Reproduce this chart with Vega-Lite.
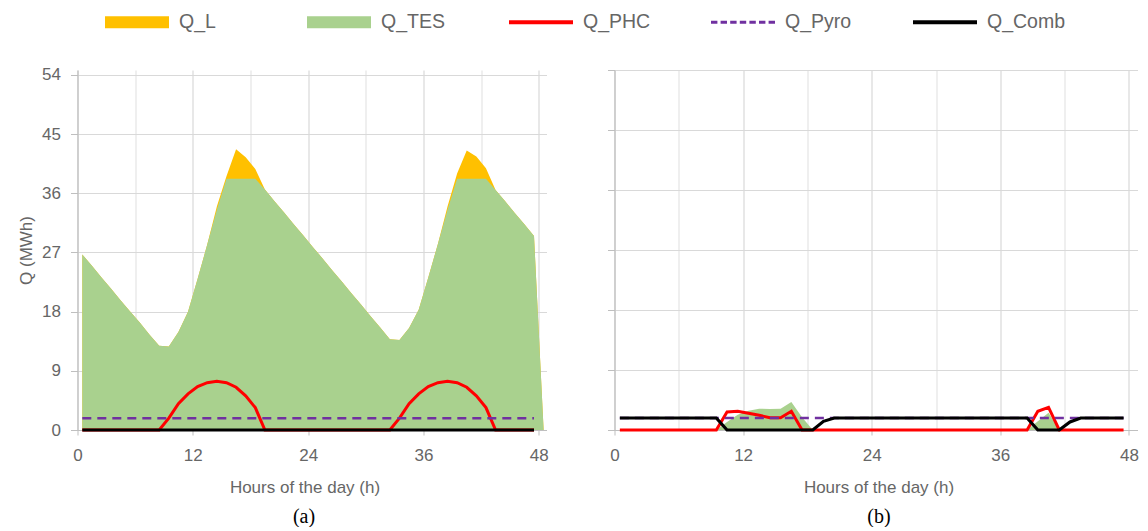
{
  "$schema": "https://vega.github.io/schema/vega-lite/v6.json",
  "padding": {"left": 17.5, "top": 12, "right": 0, "bottom": 0},
  "autosize": {"type": "pad"},
  "background": "white",
  "bounds": "flush",
  "spacing": 68,
  "config": {
    "view": {"stroke": null},
    "axis": {
      "labelFont": "Liberation Sans", "labelColor": "#666666", "labelFontSize": 17,
      "titleFont": "Liberation Sans", "titleColor": "#666666", "titleFontSize": 17, "titleFontWeight": "normal",
      "domainColor": "#BFBFBF", "tickColor": "#BFBFBF", "gridColor": "#D9D9D9", "gridWidth": 1.2, "domainWidth": 1.2
    }
  },
  "datasets": {
    "a": [
      {"h": 0.5, "Q_L": 26.7, "Q_TES": 26.7, "Q_PHC": 0, "Q_Pyro": 1.8, "Q_Comb": 0},
      {"h": 1.5, "Q_L": 25.0, "Q_TES": 25.0, "Q_PHC": 0, "Q_Pyro": 1.8, "Q_Comb": 0},
      {"h": 2.5, "Q_L": 23.2, "Q_TES": 23.2, "Q_PHC": 0, "Q_Pyro": 1.8, "Q_Comb": 0},
      {"h": 3.5, "Q_L": 21.5, "Q_TES": 21.5, "Q_PHC": 0, "Q_Pyro": 1.8, "Q_Comb": 0},
      {"h": 4.5, "Q_L": 19.7, "Q_TES": 19.7, "Q_PHC": 0, "Q_Pyro": 1.8, "Q_Comb": 0},
      {"h": 5.5, "Q_L": 18.0, "Q_TES": 18.0, "Q_PHC": 0, "Q_Pyro": 1.8, "Q_Comb": 0},
      {"h": 6.5, "Q_L": 16.3, "Q_TES": 16.3, "Q_PHC": 0, "Q_Pyro": 1.8, "Q_Comb": 0},
      {"h": 7.5, "Q_L": 14.5, "Q_TES": 14.5, "Q_PHC": 0, "Q_Pyro": 1.8, "Q_Comb": 0},
      {"h": 8.5, "Q_L": 12.8, "Q_TES": 12.8, "Q_PHC": 0, "Q_Pyro": 1.8, "Q_Comb": 0},
      {"h": 9.5, "Q_L": 12.7, "Q_TES": 12.7, "Q_PHC": 1.8, "Q_Pyro": 1.8, "Q_Comb": 0},
      {"h": 10.5, "Q_L": 14.9, "Q_TES": 14.9, "Q_PHC": 4.0, "Q_Pyro": 1.8, "Q_Comb": 0},
      {"h": 11.5, "Q_L": 18.0, "Q_TES": 18.0, "Q_PHC": 5.5, "Q_Pyro": 1.8, "Q_Comb": 0},
      {"h": 12.5, "Q_L": 23.0, "Q_TES": 23.0, "Q_PHC": 6.6, "Q_Pyro": 1.8, "Q_Comb": 0},
      {"h": 13.5, "Q_L": 28.2, "Q_TES": 28.2, "Q_PHC": 7.2, "Q_Pyro": 1.8, "Q_Comb": 0},
      {"h": 14.5, "Q_L": 34.0, "Q_TES": 33.5, "Q_PHC": 7.4, "Q_Pyro": 1.8, "Q_Comb": 0},
      {"h": 15.5, "Q_L": 38.6, "Q_TES": 38.2, "Q_PHC": 7.2, "Q_Pyro": 1.8, "Q_Comb": 0},
      {"h": 16.5, "Q_L": 42.7, "Q_TES": 38.2, "Q_PHC": 6.5, "Q_Pyro": 1.8, "Q_Comb": 0},
      {"h": 17.5, "Q_L": 41.5, "Q_TES": 38.2, "Q_PHC": 5.2, "Q_Pyro": 1.8, "Q_Comb": 0},
      {"h": 18.5, "Q_L": 39.7, "Q_TES": 38.2, "Q_PHC": 3.4, "Q_Pyro": 1.8, "Q_Comb": 0},
      {"h": 19.5, "Q_L": 36.6, "Q_TES": 36.6, "Q_PHC": 0, "Q_Pyro": 1.8, "Q_Comb": 0},
      {"h": 20.5, "Q_L": 34.8, "Q_TES": 34.8, "Q_PHC": 0, "Q_Pyro": 1.8, "Q_Comb": 0},
      {"h": 21.5, "Q_L": 33.1, "Q_TES": 33.1, "Q_PHC": 0, "Q_Pyro": 1.8, "Q_Comb": 0},
      {"h": 22.5, "Q_L": 31.3, "Q_TES": 31.3, "Q_PHC": 0, "Q_Pyro": 1.8, "Q_Comb": 0},
      {"h": 23.5, "Q_L": 29.6, "Q_TES": 29.6, "Q_PHC": 0, "Q_Pyro": 1.8, "Q_Comb": 0},
      {"h": 24.5, "Q_L": 27.8, "Q_TES": 27.8, "Q_PHC": 0, "Q_Pyro": 1.8, "Q_Comb": 0},
      {"h": 25.5, "Q_L": 26.1, "Q_TES": 26.1, "Q_PHC": 0, "Q_Pyro": 1.8, "Q_Comb": 0},
      {"h": 26.5, "Q_L": 24.3, "Q_TES": 24.3, "Q_PHC": 0, "Q_Pyro": 1.8, "Q_Comb": 0},
      {"h": 27.5, "Q_L": 22.6, "Q_TES": 22.6, "Q_PHC": 0, "Q_Pyro": 1.8, "Q_Comb": 0},
      {"h": 28.5, "Q_L": 20.8, "Q_TES": 20.8, "Q_PHC": 0, "Q_Pyro": 1.8, "Q_Comb": 0},
      {"h": 29.5, "Q_L": 19.1, "Q_TES": 19.1, "Q_PHC": 0, "Q_Pyro": 1.8, "Q_Comb": 0},
      {"h": 30.5, "Q_L": 17.3, "Q_TES": 17.3, "Q_PHC": 0, "Q_Pyro": 1.8, "Q_Comb": 0},
      {"h": 31.5, "Q_L": 15.6, "Q_TES": 15.6, "Q_PHC": 0, "Q_Pyro": 1.8, "Q_Comb": 0},
      {"h": 32.5, "Q_L": 13.8, "Q_TES": 13.8, "Q_PHC": 0, "Q_Pyro": 1.8, "Q_Comb": 0},
      {"h": 33.5, "Q_L": 13.7, "Q_TES": 13.7, "Q_PHC": 1.8, "Q_Pyro": 1.8, "Q_Comb": 0},
      {"h": 34.5, "Q_L": 15.5, "Q_TES": 15.5, "Q_PHC": 4.0, "Q_Pyro": 1.8, "Q_Comb": 0},
      {"h": 35.5, "Q_L": 18.3, "Q_TES": 18.3, "Q_PHC": 5.5, "Q_Pyro": 1.8, "Q_Comb": 0},
      {"h": 36.5, "Q_L": 23.2, "Q_TES": 23.2, "Q_PHC": 6.6, "Q_Pyro": 1.8, "Q_Comb": 0},
      {"h": 37.5, "Q_L": 28.3, "Q_TES": 28.3, "Q_PHC": 7.2, "Q_Pyro": 1.8, "Q_Comb": 0},
      {"h": 38.5, "Q_L": 34.0, "Q_TES": 33.5, "Q_PHC": 7.4, "Q_Pyro": 1.8, "Q_Comb": 0},
      {"h": 39.5, "Q_L": 39.0, "Q_TES": 38.2, "Q_PHC": 7.2, "Q_Pyro": 1.8, "Q_Comb": 0},
      {"h": 40.5, "Q_L": 42.5, "Q_TES": 38.2, "Q_PHC": 6.5, "Q_Pyro": 1.8, "Q_Comb": 0},
      {"h": 41.5, "Q_L": 41.6, "Q_TES": 38.2, "Q_PHC": 5.2, "Q_Pyro": 1.8, "Q_Comb": 0},
      {"h": 42.5, "Q_L": 39.8, "Q_TES": 38.2, "Q_PHC": 3.4, "Q_Pyro": 1.8, "Q_Comb": 0},
      {"h": 43.5, "Q_L": 36.5, "Q_TES": 36.5, "Q_PHC": 0, "Q_Pyro": 1.8, "Q_Comb": 0},
      {"h": 44.5, "Q_L": 34.8, "Q_TES": 34.8, "Q_PHC": 0, "Q_Pyro": 1.8, "Q_Comb": 0},
      {"h": 45.5, "Q_L": 33.0, "Q_TES": 33.0, "Q_PHC": 0, "Q_Pyro": 1.8, "Q_Comb": 0},
      {"h": 46.5, "Q_L": 31.3, "Q_TES": 31.3, "Q_PHC": 0, "Q_Pyro": 1.8, "Q_Comb": 0},
      {"h": 47.5, "Q_L": 29.5, "Q_TES": 29.5, "Q_PHC": 0, "Q_Pyro": 1.8, "Q_Comb": 0},
      {"h": 48.5, "Q_L": 0, "Q_TES": 0, "Q_PHC": null, "Q_Pyro": null, "Q_Comb": null}
    ],
    "b": [
      {"h": 0.5, "Q_TES": 0, "Q_PHC": 0, "Q_Pyro": 1.8, "Q_Comb": 1.8},
      {"h": 1.5, "Q_TES": 0, "Q_PHC": 0, "Q_Pyro": 1.8, "Q_Comb": 1.8},
      {"h": 2.5, "Q_TES": 0, "Q_PHC": 0, "Q_Pyro": 1.8, "Q_Comb": 1.8},
      {"h": 3.5, "Q_TES": 0, "Q_PHC": 0, "Q_Pyro": 1.8, "Q_Comb": 1.8},
      {"h": 4.5, "Q_TES": 0, "Q_PHC": 0, "Q_Pyro": 1.8, "Q_Comb": 1.8},
      {"h": 5.5, "Q_TES": 0, "Q_PHC": 0, "Q_Pyro": 1.8, "Q_Comb": 1.8},
      {"h": 6.5, "Q_TES": 0, "Q_PHC": 0, "Q_Pyro": 1.8, "Q_Comb": 1.8},
      {"h": 7.5, "Q_TES": 0, "Q_PHC": 0, "Q_Pyro": 1.8, "Q_Comb": 1.8},
      {"h": 8.5, "Q_TES": 0, "Q_PHC": 0, "Q_Pyro": 1.8, "Q_Comb": 1.8},
      {"h": 9.5, "Q_TES": 0, "Q_PHC": 0, "Q_Pyro": 1.8, "Q_Comb": 1.8},
      {"h": 10.5, "Q_TES": 1.2, "Q_PHC": 2.7, "Q_Pyro": 1.8, "Q_Comb": 0},
      {"h": 11.5, "Q_TES": 2.3, "Q_PHC": 2.8, "Q_Pyro": 1.8, "Q_Comb": 0},
      {"h": 12.5, "Q_TES": 2.9, "Q_PHC": 2.5, "Q_Pyro": 1.8, "Q_Comb": 0},
      {"h": 13.5, "Q_TES": 3.2, "Q_PHC": 2.2, "Q_Pyro": 1.8, "Q_Comb": 0},
      {"h": 14.5, "Q_TES": 3.15, "Q_PHC": 1.85, "Q_Pyro": 1.8, "Q_Comb": 0},
      {"h": 15.5, "Q_TES": 3.2, "Q_PHC": 1.85, "Q_Pyro": 1.8, "Q_Comb": 0},
      {"h": 16.5, "Q_TES": 4.2, "Q_PHC": 2.8, "Q_Pyro": 1.8, "Q_Comb": 0},
      {"h": 17.5, "Q_TES": 1.9, "Q_PHC": 0, "Q_Pyro": 1.8, "Q_Comb": 0},
      {"h": 18.5, "Q_TES": 0, "Q_PHC": 0, "Q_Pyro": 1.8, "Q_Comb": 0},
      {"h": 19.5, "Q_TES": 0, "Q_PHC": 0, "Q_Pyro": 1.8, "Q_Comb": 1.3},
      {"h": 20.5, "Q_TES": 0, "Q_PHC": 0, "Q_Pyro": 1.8, "Q_Comb": 1.8},
      {"h": 21.5, "Q_TES": 0, "Q_PHC": 0, "Q_Pyro": 1.8, "Q_Comb": 1.8},
      {"h": 22.5, "Q_TES": 0, "Q_PHC": 0, "Q_Pyro": 1.8, "Q_Comb": 1.8},
      {"h": 23.5, "Q_TES": 0, "Q_PHC": 0, "Q_Pyro": 1.8, "Q_Comb": 1.8},
      {"h": 24.5, "Q_TES": 0, "Q_PHC": 0, "Q_Pyro": 1.8, "Q_Comb": 1.8},
      {"h": 25.5, "Q_TES": 0, "Q_PHC": 0, "Q_Pyro": 1.8, "Q_Comb": 1.8},
      {"h": 26.5, "Q_TES": 0, "Q_PHC": 0, "Q_Pyro": 1.8, "Q_Comb": 1.8},
      {"h": 27.5, "Q_TES": 0, "Q_PHC": 0, "Q_Pyro": 1.8, "Q_Comb": 1.8},
      {"h": 28.5, "Q_TES": 0, "Q_PHC": 0, "Q_Pyro": 1.8, "Q_Comb": 1.8},
      {"h": 29.5, "Q_TES": 0, "Q_PHC": 0, "Q_Pyro": 1.8, "Q_Comb": 1.8},
      {"h": 30.5, "Q_TES": 0, "Q_PHC": 0, "Q_Pyro": 1.8, "Q_Comb": 1.8},
      {"h": 31.5, "Q_TES": 0, "Q_PHC": 0, "Q_Pyro": 1.8, "Q_Comb": 1.8},
      {"h": 32.5, "Q_TES": 0, "Q_PHC": 0, "Q_Pyro": 1.8, "Q_Comb": 1.8},
      {"h": 33.5, "Q_TES": 0, "Q_PHC": 0, "Q_Pyro": 1.8, "Q_Comb": 1.8},
      {"h": 34.5, "Q_TES": 0, "Q_PHC": 0, "Q_Pyro": 1.8, "Q_Comb": 1.8},
      {"h": 35.5, "Q_TES": 0, "Q_PHC": 0, "Q_Pyro": 1.8, "Q_Comb": 1.8},
      {"h": 36.5, "Q_TES": 0, "Q_PHC": 0, "Q_Pyro": 1.8, "Q_Comb": 1.8},
      {"h": 37.5, "Q_TES": 0, "Q_PHC": 0, "Q_Pyro": 1.8, "Q_Comb": 1.8},
      {"h": 38.5, "Q_TES": 0, "Q_PHC": 0, "Q_Pyro": 1.8, "Q_Comb": 1.8},
      {"h": 39.5, "Q_TES": 1.3, "Q_PHC": 2.8, "Q_Pyro": 1.8, "Q_Comb": 0},
      {"h": 40.5, "Q_TES": 2.6, "Q_PHC": 3.4, "Q_Pyro": 1.8, "Q_Comb": 0},
      {"h": 41.5, "Q_TES": 0, "Q_PHC": 0, "Q_Pyro": 1.8, "Q_Comb": 0},
      {"h": 42.5, "Q_TES": 0, "Q_PHC": 0, "Q_Pyro": 1.8, "Q_Comb": 1.2},
      {"h": 43.5, "Q_TES": 0, "Q_PHC": 0, "Q_Pyro": 1.8, "Q_Comb": 1.8},
      {"h": 44.5, "Q_TES": 0, "Q_PHC": 0, "Q_Pyro": 1.8, "Q_Comb": 1.8},
      {"h": 45.5, "Q_TES": 0, "Q_PHC": 0, "Q_Pyro": 1.8, "Q_Comb": 1.8},
      {"h": 46.5, "Q_TES": 0, "Q_PHC": 0, "Q_Pyro": 1.8, "Q_Comb": 1.8},
      {"h": 47.5, "Q_TES": 0, "Q_PHC": 0, "Q_Pyro": 1.8, "Q_Comb": 1.8}
    ]
  },
  "hconcat": [
    {
      "width": 469,
      "height": 360,
      "data": {"name": "a"},
      "transform": [{"fold": ["Q_L", "Q_TES", "Q_PHC", "Q_Pyro", "Q_Comb"], "as": ["series", "Q"]}],
      "title": {"text": "(a)", "orient": "bottom", "anchor": "middle", "font": "Liberation Serif", "fontSize": 20, "fontWeight": "normal", "color": "#000000", "offset": 12, "dx": -8},
      "encoding": {
        "x": {
          "field": "h", "type": "quantitative",
          "scale": {"domain": [0, 48.8], "nice": false, "zero": false},
          "axis": {
            "title": "Hours of the day (h)", "titleX": 227,
            "values": [0, 6, 12, 18, 24, 30, 36, 42, 48],
            "labelExpr": "datum.value % 12 === 0 ? datum.label : ''",
            "labelFlush": false, "labelOverlap": false,
            "tickSize": 5, "labelPadding": 12, "titlePadding": 16,
            "tickOpacity": {"condition": {"test": "datum.value % 12 === 0", "value": 1}, "value": 0},
            "gridColor": {"condition": {"test": "datum.value % 12 === 0", "value": "#D9D9D9"}, "value": "#E4E4E4"}
          }
        },
        "y": {
          "field": "Q", "type": "quantitative", "stack": null,
          "scale": {"domain": [0, 54.76], "nice": false, "zero": true},
          "axis": {"title": "Q (MWh)", "values": [0, 9, 18, 27, 36, 45, 54], "tickSize": 7, "labelPadding": 10, "titlePadding": 6}
        },
        "color": {
          "field": "series", "type": "nominal",
          "scale": {"domain": ["Q_L", "Q_TES", "Q_PHC", "Q_Pyro", "Q_Comb"], "range": ["#FFC000", "#A9D18E", "#FF0000", "#7030A0", "#000000"]},
          "legend": {
            "orient": "none", "legendX": 49.5, "legendY": -58, "direction": "horizontal", "title": null,
            "gridAlign": "all", "columnPadding": 49, "labelOffset": 32, "symbolSize": 400, "symbolStrokeWidth": 0,
            "labelFontSize": 19.5, "labelColor": "#666666", "labelFont": "Liberation Sans", "padding": 0, "labelLimit": 300
          }
        }
      },
      "layer": [
        {"transform": [{"filter": "datum.series === 'Q_L'"}], "mark": {"type": "area", "interpolate": "linear", "opacity": 1}},
        {"transform": [{"filter": "datum.series === 'Q_TES'"}], "mark": {"type": "area", "interpolate": "linear", "opacity": 1}},
        {"transform": [{"filter": "datum.series === 'Q_PHC'"}], "mark": {"type": "line", "strokeWidth": 3}},
        {"transform": [{"filter": "datum.series === 'Q_Pyro'"}], "mark": {"type": "line", "strokeWidth": 2.5, "strokeDash": [9, 6]}},
        {"transform": [{"filter": "datum.series === 'Q_Comb'"}], "mark": {"type": "line", "strokeWidth": 3.2}},
        {
          "transform": [{"filter": "datum.series === 'none'"}],
          "mark": {"type": "point", "filled": true, "opacity": 1, "strokeWidth": 0},
          "encoding": {
            "shape": {
              "field": "series", "type": "nominal",
              "scale": {
                "domain": ["Q_L", "Q_TES", "Q_PHC", "Q_Pyro", "Q_Comb"],
                "range": [
                  "M-3.2,-0.6H3.2V0.6H-3.2Z",
                  "M-3.2,-0.6H3.2V0.6H-3.2Z",
                  "M-3.2,-0.2H3.2V0.2H-3.2Z",
                  "M-3.2,-0.15H-2.56V0.15H-3.2Z M-2.24,-0.15H-1.6V0.15H-2.24Z M-1.28,-0.15H-0.64V0.15H-1.28Z M-0.32,-0.15H0.32V0.15H-0.32Z M0.64,-0.15H1.28V0.15H0.64Z M1.6,-0.15H2.24V0.15H1.6Z M2.56,-0.15H3.2V0.15H2.56Z",
                  "M-3.2,-0.2H3.2V0.2H-3.2Z"
                ]
              },
              "legend": {
                "orient": "none", "legendX": 49.5, "legendY": -58, "direction": "horizontal", "title": null,
                "gridAlign": "all", "columnPadding": 49, "labelOffset": 32, "symbolSize": 400, "symbolStrokeWidth": 0,
                "labelFontSize": 19.5, "labelColor": "#666666", "labelFont": "Liberation Sans", "padding": 0, "labelLimit": 300
              }
            }
          }
        }
      ]
    },
    {
      "width": 523,
      "height": 360,
      "data": {"name": "b"},
      "transform": [{"fold": ["Q_TES", "Q_PHC", "Q_Pyro", "Q_Comb"], "as": ["series", "Q"]}],
      "title": {"text": "(b)", "orient": "bottom", "anchor": "middle", "font": "Liberation Serif", "fontSize": 20, "fontWeight": "normal", "color": "#000000", "offset": 12, "dx": 3},
      "encoding": {
        "x": {
          "field": "h", "type": "quantitative",
          "scale": {"domain": [0, 48.8], "nice": false, "zero": false},
          "axis": {
            "title": "Hours of the day (h)", "titleX": 264,
            "values": [0, 6, 12, 18, 24, 30, 36, 42, 48],
            "labelExpr": "datum.value % 12 === 0 ? datum.label : ''",
            "labelFlush": false, "labelOverlap": false,
            "tickSize": 5, "labelPadding": 12, "titlePadding": 16,
            "tickOpacity": {"condition": {"test": "datum.value % 12 === 0", "value": 1}, "value": 0},
            "gridColor": {"condition": {"test": "datum.value % 12 === 0", "value": "#D9D9D9"}, "value": "#E4E4E4"}
          }
        },
        "y": {
          "field": "Q", "type": "quantitative", "stack": null,
          "scale": {"domain": [0, 54], "nice": false, "zero": true},
          "axis": {"title": null, "labels": false, "values": [0, 9, 18, 27, 36, 45, 54], "tickSize": 7}
        },
        "color": {
          "field": "series", "type": "nominal",
          "scale": {"domain": ["Q_L", "Q_TES", "Q_PHC", "Q_Pyro", "Q_Comb"], "range": ["#FFC000", "#A9D18E", "#FF0000", "#7030A0", "#000000"]}
        }
      },
      "layer": [
        {"transform": [{"filter": "datum.series === 'Q_TES'"}], "mark": {"type": "area", "interpolate": "linear", "opacity": 1}},
        {"transform": [{"filter": "datum.series === 'Q_PHC'"}], "mark": {"type": "line", "strokeWidth": 3}},
        {"transform": [{"filter": "datum.series === 'Q_Pyro'"}], "mark": {"type": "line", "strokeWidth": 2.5, "strokeDash": [9, 6]}},
        {"transform": [{"filter": "datum.series === 'Q_Comb'"}], "mark": {"type": "line", "strokeWidth": 3.2}}
      ]
    }
  ]
}
